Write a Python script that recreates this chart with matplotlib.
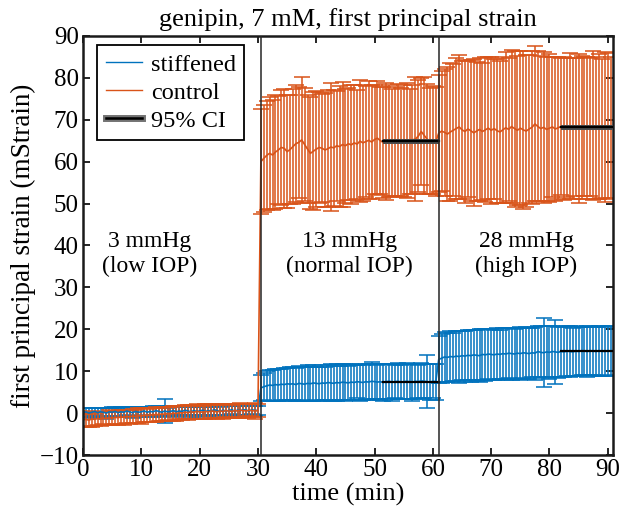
"""Recreate the genipin first principal strain figure (errorbars over time)."""
import matplotlib

matplotlib.use("Agg")
import matplotlib.pyplot as plt
import numpy as np
from matplotlib.lines import Line2D
from matplotlib.legend_handler import HandlerTuple

# sampling times (min), one sample every 0.5 min
time_min = np.arange(0, 91, 0.5)

# control: mean and error per sample, split by pressure step
control_mean_low = [
    -1.6, -1.5, -1.7, -1.4, -1.5, -1.3, -1.4, -1.2, -1.3, -1.1,
    -1.2, -1.0, -1.1, -0.9, -1.0, -0.8, -0.9, -0.7, -0.8, -0.6,
    -0.7, -0.5, -0.6, -0.4, -0.5, -0.3, -0.4, -0.2, -0.3, -0.1,
    -0.2, 0.0, -0.1, 0.1, 0.0, 0.2, 0.1, 0.3, 0.2, 0.4,
    0.3, 0.2, 0.4, 0.3, 0.5, 0.4, 0.3, 0.5, 0.4, 0.6,
    0.5, 0.4, 0.6, 0.5, 0.7, 0.6, 0.5, 0.7, 0.6, 0.5, 0.6,
]
control_err_low = [
    1.5, 1.7, 1.6, 1.8, 1.5, 1.6, 1.7, 1.5, 1.6, 1.8,
    1.6, 1.5, 1.7, 1.6, 1.8, 1.5, 1.7, 1.6, 1.5, 1.7,
    1.8, 1.6, 1.5, 1.7, 1.6, 1.8, 1.5, 1.6, 1.7, 1.5,
    1.6, 1.8, 1.7, 1.5, 1.6, 1.7, 1.8, 1.6, 1.5, 1.7,
    1.6, 1.5, 1.7, 1.8, 1.6, 1.5, 1.7, 1.6, 1.8, 1.5,
    1.7, 1.6, 1.5, 1.7, 1.8, 1.6, 1.7, 1.5, 1.6, 1.8, 1.6,
]
control_mean_normal = [
    60.0, 60.8, 61.5, 62.0, 61.6, 62.3, 62.8, 63.4, 63.2, 62.4,
    62.9, 63.6, 64.3, 64.6, 65.2, 64.1, 63.0, 62.0, 62.5, 63.0,
    63.4, 63.2, 62.8, 63.1, 63.5, 63.3, 63.8, 63.6, 64.1, 63.8,
    64.3, 64.0, 64.5, 64.2, 64.9, 64.5, 64.8, 65.1, 64.7, 65.3,
    65.6, 65.0, 64.6, 64.8, 64.9, 64.6, 64.8, 65.0, 64.7, 64.9,
    65.1, 64.8, 65.2, 65.4, 66.1, 67.2, 66.3, 65.4, 64.9, 65.1, 64.8,
]
control_err_normal = [
    12.5, 12.8, 13.0, 13.4, 13.2, 13.6, 12.9, 13.8, 14.2, 13.5,
    13.1, 13.7, 14.0, 13.2, 15.0, 13.6, 12.8, 13.4, 14.1, 13.9,
    13.3, 12.9, 13.6, 14.0, 15.2, 13.8, 13.1, 14.5, 14.8, 13.6,
    13.4, 14.2, 13.7, 13.0, 14.6, 13.9, 13.3, 14.1, 13.5, 13.0,
    13.6, 12.8, 13.2, 13.9, 13.4, 12.7, 13.1, 13.5, 12.9, 13.3,
    13.7, 12.6, 13.0, 14.8, 13.4, 12.8, 13.9, 13.2, 12.6, 12.9, 13.0,
]
control_mean_high = [
    66.8, 67.3, 67.0, 66.6, 67.1, 67.5, 67.9, 68.3, 67.6, 67.2,
    67.8, 67.4, 66.9, 67.3, 67.7, 67.2, 67.6, 68.0, 67.5, 67.9,
    67.4, 67.1, 67.6, 68.1, 67.7, 68.4, 67.9, 67.5, 68.0, 67.6,
    67.3, 67.8, 68.2, 69.0, 68.4, 67.9, 68.2, 67.7, 68.0, 68.3,
    67.8, 68.1, 68.4, 67.9, 68.2, 68.5, 68.0, 68.3, 67.9, 68.2,
    68.4, 68.0, 68.3, 68.6, 68.1, 68.4, 67.9, 68.2, 68.5, 68.1,
]
control_err_high = [
    14.0, 14.3, 15.2, 16.0, 16.4, 15.8, 16.9, 17.2, 16.5, 17.0,
    16.2, 16.8, 17.5, 16.6, 17.1, 16.4, 17.3, 16.9, 17.6, 16.7,
    17.2, 16.9, 17.4, 18.0, 17.1, 18.2, 18.6, 17.8, 18.4, 18.9,
    18.1, 17.6, 18.3, 18.5, 17.9, 17.4, 18.0, 17.2, 17.6, 16.8,
    17.3, 16.9, 16.4, 17.0, 16.6, 17.4, 16.8, 16.5, 17.7, 17.1,
    16.6, 17.0, 16.4, 17.8, 16.9, 17.2, 16.5, 17.9, 17.4, 16.8,
]

# stiffened: mean and error per sample
stiff_mean_low = [
    0.1, 0.3, 0.0, 0.2, 0.4, 0.1, 0.3, 0.2, 0.0, 0.3,
    0.2, 0.4, 0.1, 0.3, 0.2, 0.5, 0.3, 0.1, 0.4, 0.2,
    0.3, 0.5, 0.2, 0.4, 0.3, 0.6, 0.4, 0.2, 0.5, 0.3,
    0.4, 0.6, 0.3, 0.5, 0.4, 0.7, 0.5, 0.3, 0.6, 0.4,
    0.5, 0.7, 0.4, 0.6, 0.5, 0.8, 0.6, 0.4, 0.7, 0.5,
    0.6, 0.8, 0.5, 0.7, 0.6, 0.8, 0.7, 0.5, 0.8, 0.6, 0.7,
]
stiff_err_low = [
    1.1, 1.0, 1.2, 1.1, 0.9, 1.2, 1.0, 1.1, 1.3, 1.0,
    1.2, 1.1, 1.0, 1.2, 1.1, 0.9, 1.1, 1.3, 1.0, 1.2,
    1.1, 1.0, 1.2, 1.1, 1.3, 1.0, 1.2, 1.1, 2.8, 1.0,
    1.2, 1.1, 1.3, 1.0, 1.2, 1.1, 1.0, 1.2, 1.1, 1.3,
    1.0, 1.2, 1.1, 1.3, 1.0, 1.2, 1.1, 1.0, 1.2, 1.1,
    1.3, 1.0, 1.2, 1.1, 1.0, 1.2, 1.1, 1.3, 1.0, 1.2, 1.1,
]
stiff_mean_normal = [
    6.0, 6.3, 6.5, 6.7, 6.6, 6.8, 6.7, 6.9, 6.8, 7.0,
    6.9, 7.0, 6.8, 7.1, 7.0, 6.9, 7.1, 7.0, 7.2, 7.1,
    7.0, 7.2, 7.1, 7.3, 7.2, 7.1, 7.3, 7.2, 7.4, 7.3,
    7.2, 7.4, 7.3, 7.5, 7.4, 7.3, 7.5, 7.4, 7.6, 7.5,
    7.4, 7.5, 7.3, 7.5, 7.6, 7.4, 7.5, 7.6, 7.4, 7.5,
    7.6, 7.5, 7.4, 7.6, 7.5, 7.7, 7.6, 7.5, 7.4, 7.6, 7.5,
]
stiff_err_normal = [
    3.0, 3.2, 3.5, 3.7, 3.6, 3.8, 3.9, 3.7, 4.0, 3.8,
    4.1, 3.9, 4.0, 4.2, 3.9, 4.1, 4.3, 4.0, 4.2, 3.9,
    4.1, 4.3, 4.0, 4.2, 4.4, 4.1, 4.3, 4.0, 4.2, 4.4,
    4.1, 4.3, 4.2, 4.0, 4.4, 4.2, 4.1, 4.3, 4.5, 4.2,
    4.0, 4.3, 4.4, 4.1, 4.2, 4.4, 4.0, 4.3, 4.1, 4.2,
    4.3, 4.1, 4.4, 4.2, 4.0, 4.3, 4.1, 6.3, 4.2, 4.0, 4.3,
]
stiff_mean_high = [
    12.8, 13.1, 13.4, 13.3, 13.5, 13.4, 13.6, 13.5, 13.7, 13.6,
    13.8, 13.7, 13.9, 13.8, 13.7, 14.0, 13.9, 14.1, 14.0, 13.9,
    14.1, 14.0, 14.2, 14.1, 14.3, 14.2, 14.1, 14.3, 14.2, 14.4,
    14.3, 14.2, 14.4, 14.3, 14.7, 14.5, 14.4, 14.6, 14.5, 14.7,
    14.6, 14.5, 14.7, 14.6, 14.8, 14.7, 14.6, 14.8, 14.7, 14.9,
    14.8, 14.7, 14.9, 14.8, 14.7, 14.9, 14.8, 14.7, 14.9, 14.8,
]
stiff_err_high = [
    5.6, 5.8, 6.0, 5.9, 6.1, 5.8, 6.0, 6.2, 5.9, 6.1,
    6.0, 6.2, 5.9, 6.1, 6.3, 6.0, 6.2, 5.9, 6.1, 6.0,
    6.2, 5.9, 6.1, 6.3, 6.0, 6.2, 5.9, 6.1, 6.4, 6.0,
    6.2, 6.1, 5.9, 6.3, 6.0, 6.2, 8.2, 6.1, 6.3, 6.0,
    7.6, 6.1, 6.2, 6.0, 5.9, 6.1, 5.8, 6.0, 5.9, 5.7,
    5.8, 6.0, 5.9, 5.7, 5.8, 6.0, 5.9, 5.8, 5.9, 6.0,
]

# 95% confidence interval over the last part of each step: (start, end, mean, half width)
ci_segments_control = [(51.5, 61.0, 64.9, 0.6), (82.0, 90.9, 68.2, 0.6)]
ci_segments_stiff = [(51.5, 61.0, 7.5, 0.2), (82.0, 90.9, 14.8, 0.2)]

step_times = [30.5, 61.0]
step_labels = ["3 mmHg\n(low IOP)", "13 mmHg\n(normal IOP)", "28 mmHg\n(high IOP)"]
step_label_x = [11.5, 45.75, 76.0]

BLUE = (0.0, 0.447, 0.741)
ORANGE = (0.85, 0.325, 0.098)

plt.rcParams["font.family"] = ["Liberation Serif", "DejaVu Serif"]
plt.rcParams["font.size"] = 17

fig = plt.figure(figsize=(6.21, 5.2), dpi=100)
ax = fig.add_axes([0.1337, 0.125, 0.8535, 0.8058])

stiff_mean = np.array(stiff_mean_low + stiff_mean_normal + stiff_mean_high)
stiff_err = np.array(stiff_err_low + stiff_err_normal + stiff_err_high)
control_mean = np.array(control_mean_low + control_mean_normal + control_mean_high)
control_err = np.array(control_err_low + control_err_normal + control_err_high)

for mean, err, colour in [(stiff_mean, stiff_err, BLUE), (control_mean, control_err, ORANGE)]:
    ax.errorbar(
        time_min,
        mean,
        yerr=err,
        color=colour,
        lw=1.2,
        elinewidth=1.1,
        capsize=5.5,
        capthick=1.1,
    )

# confidence interval bands
for segments in [ci_segments_control, ci_segments_stiff]:
    for start, end, level, half in segments:
        ax.fill_between([start, end], level - half, level + half, color="0.3", lw=0, zorder=4)
        ax.plot([start, end], [level, level], color="black", lw=1.6, zorder=5)

for t in step_times:
    ax.axvline(t, color="0.15", lw=1.1, zorder=6)

for x, label in zip(step_label_x, step_labels):
    ax.text(x, 38, label, ha="center", va="center", fontsize=17, linespacing=1.2)

ax.set_xlim(0, 90.9)
ax.set_ylim(-10, 90)
ax.set_xticks(np.arange(0, 91, 10))
ax.set_yticks(np.arange(-10, 91, 10))
ax.set_yticklabels(["\u221210"] + [str(v) for v in range(0, 91, 10)])
ax.tick_params(direction="in", top=True, right=True, length=5, width=1.2, labelsize=18, pad=3)
for spine in ax.spines.values():
    spine.set_linewidth(1.8)
    spine.set_color("0.1")

ax.set_xlabel("time (min)", fontsize=19, labelpad=1)
ax.set_ylabel("first principal strain (mStrain)", fontsize=19.5, labelpad=3)
ax.set_title("genipin, 7 mM, first principal strain", fontsize=19, pad=7)

handles = [
    Line2D([], [], color=BLUE, lw=1.0),
    Line2D([], [], color=ORANGE, lw=1.0),
    (Line2D([], [], color="0.45", lw=5), Line2D([], [], color="black", lw=1.8)),
]
leg = ax.legend(
    handles,
    ["stiffened", "control", "95% CI"],
    loc="upper left",
    bbox_to_anchor=(0.027, 0.978),
    handler_map={tuple: HandlerTuple(ndivide=1)},
    fancybox=False,
    framealpha=1,
    edgecolor="black",
    borderaxespad=0,
    handlelength=1.5,
    handletextpad=0.35,
    labelspacing=0.25,
    borderpad=0.35,
    fontsize=17.5,
)
leg.get_frame().set_linewidth(1.3)
leg.set_zorder(10)

fig.savefig("out.png", dpi=100)
